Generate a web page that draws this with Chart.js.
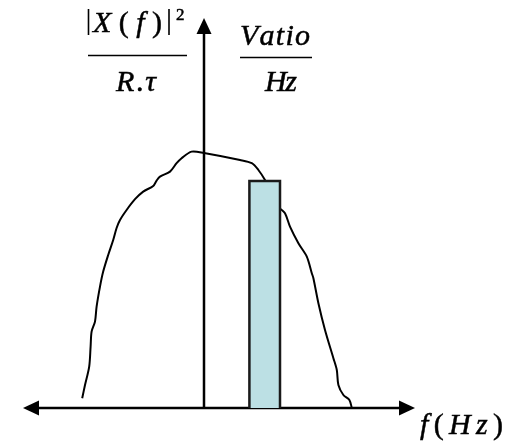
<!DOCTYPE html>
<html>
<head>
<meta charset="utf-8">
<script src="https://cdn.jsdelivr.net/npm/chart.js@4.4.1/dist/chart.umd.min.js"></script>
<style>
  html, body { margin: 0; padding: 0; background: #ffffff; }
  #wrap { width: 508px; height: 446px; }
</style>
</head>
<body>
<div id="wrap"><canvas id="psd"></canvas></div>
<script>
// Power spectral density sketch: |X(f)|^2 / (R·tau) versus frequency (Hz)
const freq = [-6.09, -5.95, -5.74, -5.67, -5.62, -5.45, -5.37, -5.20, -5.04, -4.79,
              -4.54, -4.37, -4.20, -3.87, -3.45, -3.04, -2.54, -2.37, -2.20, -1.70,
              -1.37, -1.12, -0.62, 0.00, 1.80, 2.39, 2.72, 3.05, 3.45, 3.80,
              4.05, 4.30, 4.72, 5.14, 5.39, 5.47, 5.72, 6.05, 6.47, 6.64,
              6.72, 6.97, 7.27, 7.39];
const density = [0.49, 1.15, 2.07, 3.07, 3.82, 4.32, 5.07, 6.07, 6.82, 7.65,
                 8.40, 9.00, 9.40, 9.90, 10.44, 10.82, 11.10, 11.37, 11.57, 11.82,
                 12.24, 12.49, 12.82, 12.75, 12.40, 12.24, 11.90, 11.40, 10.65, 9.99,
                 9.74, 9.07, 8.24, 7.57, 6.74, 6.49, 5.24, 3.90, 2.49, 1.90,
                 1.15, 0.65, 0.40, 0.00];

// Narrow frequency band [low, high] and its spectral density level
const bandEdges = [2.27, 3.80];
const bandLevel = 11.35;

// Axis extents (frequency and density units)
const freqRange = [-9.05, 10.55];
const densityRange = [0, 19.5];

const spectrumPoints = freq.map((f, i) => ({ x: f, y: density[i] }));
const bandPoints = [
  { x: bandEdges[0], y: 0 },
  { x: bandEdges[0], y: bandLevel },
  { x: bandEdges[1], y: bandLevel },
  { x: bandEdges[1], y: 0 }
];

const SERIF = '"Liberation Serif", "Times New Roman", serif';

// Writes a run of glyphs (each with its own font) spread evenly between left and right
function spread(ctx, parts, left, right, baseline) {
  let natural = 0;
  parts.forEach(p => { ctx.font = p[1]; natural += ctx.measureText(p[0]).width; });
  const gap = parts.length > 1 ? (right - left - natural) / (parts.length - 1) : 0;
  let cx = left;
  parts.forEach(p => {
    ctx.font = p[1];
    ctx.fillText(p[0], cx, baseline);
    ctx.strokeText(p[0], cx, baseline);
    cx += ctx.measureText(p[0]).width + gap;
  });
}

// Double-headed frequency axis, arrowed density axis and the math labels
const axesAndLabels = {
  id: 'axesAndLabels',
  beforeDatasetsDraw(chart) {
    const { ctx, chartArea, scales: { x, y } } = chart;
    const y0 = y.getPixelForValue(0);
    const x0 = x.getPixelForValue(0);
    ctx.save();
    ctx.strokeStyle = '#000';
    ctx.fillStyle = '#000';
    ctx.lineWidth = 2.5;
    ctx.beginPath();
    ctx.moveTo(chartArea.left + 12, y0);
    ctx.lineTo(chartArea.right - 12, y0);
    ctx.stroke();
    ctx.beginPath();
    ctx.moveTo(chartArea.left, y0);
    ctx.lineTo(chartArea.left + 16, y0 - 7.5);
    ctx.lineTo(chartArea.left + 16, y0 + 7.5);
    ctx.closePath();
    ctx.fill();
    ctx.beginPath();
    ctx.moveTo(chartArea.right, y0);
    ctx.lineTo(chartArea.right - 16, y0 - 7.5);
    ctx.lineTo(chartArea.right - 16, y0 + 7.5);
    ctx.closePath();
    ctx.fill();
    ctx.beginPath();
    ctx.moveTo(x0, y0);
    ctx.lineTo(x0, chartArea.top + 12);
    ctx.stroke();
    ctx.beginPath();
    ctx.moveTo(x0, chartArea.top);
    ctx.lineTo(x0 - 7.5, chartArea.top + 16);
    ctx.lineTo(x0 + 7.5, chartArea.top + 16);
    ctx.closePath();
    ctx.fill();
    ctx.restore();
  },
  afterDraw(chart) {
    const { ctx } = chart;
    ctx.save();
    ctx.fillStyle = '#000';
    ctx.strokeStyle = '#000';
    ctx.textBaseline = 'alphabetic';
    ctx.textAlign = 'left';
    const it = 'italic 30px ' + SERIF;
    const up = '30px ' + SERIF;

    // |X(f)|^2
    ctx.lineWidth = 1.6;
    ctx.beginPath();
    ctx.moveTo(88.5, 9); ctx.lineTo(88.5, 35);
    ctx.moveTo(169, 9); ctx.lineTo(169, 35);
    ctx.stroke();
    ctx.beginPath();
    ctx.moveTo(88, 55.5); ctx.lineTo(187, 55.5);
    ctx.moveTo(240, 57.5); ctx.lineTo(312, 57.5);
    ctx.stroke();

    ctx.lineWidth = 0.5;
    spread(ctx, [['X', it], ['(', up], ['f', it], [')', up]], 93, 162, 32);
    spread(ctx, [['2', '17px ' + SERIF]], 176, 186, 20);
    spread(ctx, [['R', it], ['.', up], ['\u03C4', it]], 116, 156, 91);

    // Vatio / Hz
    spread(ctx, [['V', it], ['a', it], ['t', it], ['i', it], ['o', it]], 240, 310, 45);
    spread(ctx, [['H', it], ['z', it]], 265, 297, 91);

    // f(Hz)
    spread(ctx, [['f', it], ['(', up], ['H', it], ['z', it], [')', up]], 420, 503, 434);
    ctx.restore();
  }
};

new Chart(document.getElementById('psd'), {
  type: 'line',
  data: {
    datasets: [
      {
        label: 'band',
        data: bandPoints,
        borderColor: '#1a1a1a',
        borderWidth: 2.5,
        backgroundColor: '#bce0e4',
        fill: 'origin',
        pointRadius: 0,
        tension: 0,
        clip: false,
        order: 1
      },
      {
        label: 'spectrum',
        data: spectrumPoints,
        borderColor: '#000000',
        borderWidth: 2,
        fill: false,
        pointRadius: 0,
        tension: 0.3,
        clip: false,
        order: 2
      }
    ]
  },
  options: {
    responsive: true,
    maintainAspectRatio: false,
    animation: false,
    devicePixelRatio: 1,
    layout: { padding: { left: 23, right: 93, top: 18, bottom: 38 } },
    plugins: { legend: { display: false }, tooltip: { enabled: false }, title: { display: false } },
    scales: {
      x: { type: 'linear', min: freqRange[0], max: freqRange[1], display: false },
      y: { type: 'linear', min: densityRange[0], max: densityRange[1], display: false }
    }
  },
  plugins: [axesAndLabels]
});
</script>
</body>
</html>
